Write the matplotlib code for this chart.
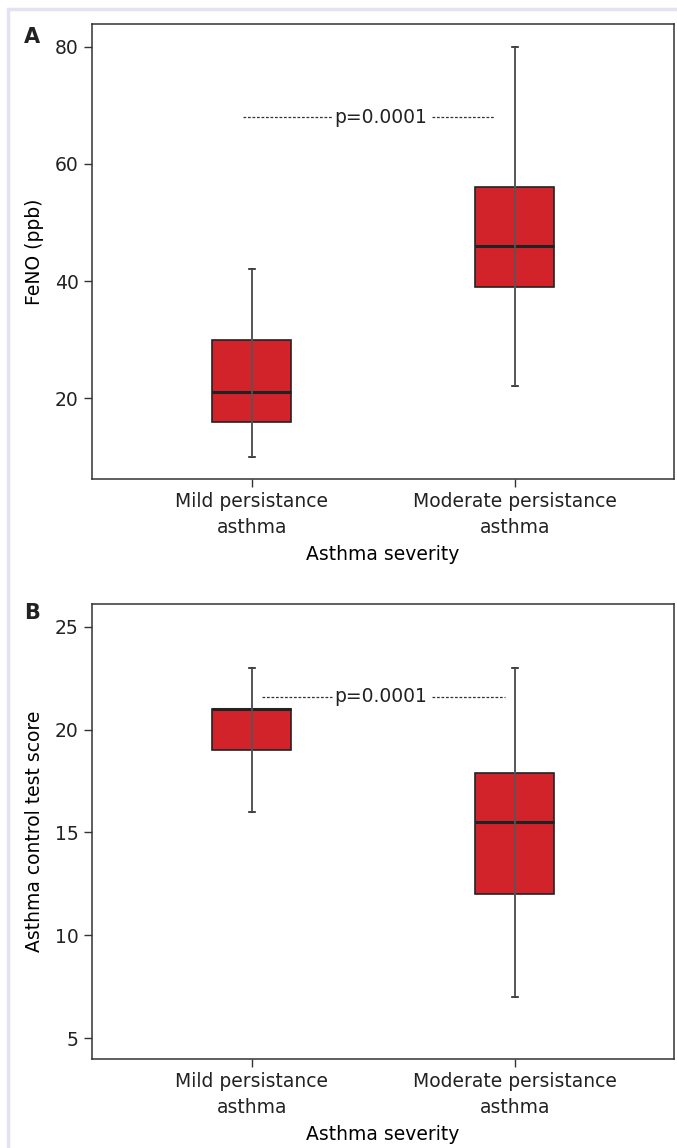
import matplotlib
matplotlib.use("Agg")
import matplotlib.pyplot as plt
from matplotlib.patches import Rectangle

plt.rcParams['font.family'] = ['DejaVu Sans']

groups = ["Mild persistance\nasthma", "Moderate persistance\nasthma"]
positions = [1, 2]

# panel A: FeNO (ppb)
feno_min = [10, 22]
feno_q1 = [16, 39]
feno_med = [21, 46]
feno_q3 = [30, 56]
feno_max = [42, 80]

# panel B: asthma control test score
act_min = [16, 7]
act_q1 = [19, 12]
act_med = [21, 15.5]
act_q3 = [21, 17.9]
act_max = [23, 23]

p_text = "p=0.0001"

box_color = "#d2232a"
edge = "#222222"
whisk = "#555555"

fig = plt.figure(figsize=(6.77, 11.48), dpi=100)
fig.patches.append(Rectangle((8 / 677, -0.1), 1.2, 1 - 9 / 1148 + 0.1, transform=fig.transFigure,
                             fill=False, edgecolor="#e2e2f2", linewidth=2.5))


def draw_panel(ax, lo, q1, med, q3, hi, ylim, yticks, ylabel, p_y, left_x, right_x):
    stats = []
    for i in range(len(positions)):
        stats.append(dict(whislo=lo[i], q1=q1[i], med=med[i], q3=q3[i], whishi=hi[i], fliers=[]))
    ax.bxp(stats, positions=positions, widths=0.30, patch_artist=True, showcaps=True,
           boxprops=dict(facecolor=box_color, edgecolor=edge, linewidth=1.2),
           medianprops=dict(color=edge, linewidth=2.2),
           whiskerprops=dict(color=whisk, linewidth=1.2),
           capprops=dict(color=edge, linewidth=1.2), capwidths=0.025)
    # whisker line runs through the box
    ax.vlines(positions, lo, hi, colors=whisk, linewidth=1.2, zorder=3)
    ax.set_xlim(0.392, 2.605)
    ax.set_ylim(*ylim)
    ax.set_yticks(yticks)
    ax.set_xticks(positions)
    ax.set_xticklabels(groups, linespacing=1.45)
    ax.set_ylabel(ylabel, fontsize=13.5, labelpad=8)
    ax.set_xlabel("Asthma severity", fontsize=13.5, labelpad=6)
    ax.tick_params(labelsize=13.5, length=6, width=1, color="#333333", labelcolor="#222222")
    for s in ax.spines.values():
        s.set_color("#333333")
        s.set_linewidth(1.1)
    ax.plot([left_x, 1.304], [p_y, p_y], color="#333333", linewidth=0.9, linestyle=(0, (2.2, 1.4)))
    ax.plot([1.684, right_x], [p_y, p_y], color="#333333", linewidth=0.9, linestyle=(0, (2.2, 1.4)))
    ax.text(1.49, p_y, p_text, ha="center", va="center", fontsize=13.5, color="#222222")


ax1 = fig.add_axes([0.1359, 0.5828, 0.8597, 0.3963])
draw_panel(ax1, feno_min, feno_q1, feno_med, feno_q3, feno_max, (6.2, 83.9), [20, 40, 60, 80],
           "FeNO (ppb)", 68, 0.966, 1.92)

ax2 = fig.add_axes([0.1359, 0.0775, 0.8597, 0.3963])
draw_panel(ax2, act_min, act_q1, act_med, act_q3, act_max, (3.98, 26.1), [5, 10, 15, 20, 25],
           "Asthma control test score", 21.6, 1.038, 1.962)

fig.text(24 / 677, 1 - 37 / 1148, "A", fontsize=15, fontweight="bold", ha="left", va="center",
         color="#222222")
fig.text(24 / 677, 1 - 613 / 1148, "B", fontsize=15, fontweight="bold", ha="left", va="center",
         color="#222222")

fig.savefig("out.png", dpi=100)
